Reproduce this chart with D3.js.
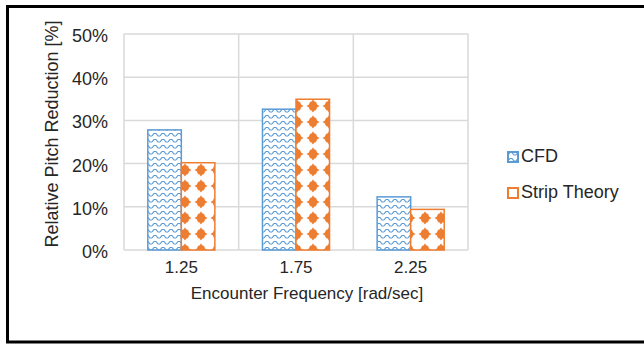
<!DOCTYPE html>
<html lang="en">
    <head>
        <meta charset="utf-8">
        <title>Relative Pitch Reduction</title>
        <script src="https://d3js.org/d3.v7.min.js"></script>
        <style type="text/css">
         body { margin: 0; background: #fff; }
         text { font-family: "Liberation Sans", Arial, sans-serif; fill: #262626; }
        </style>
    </head>
    <body>
        <script type="text/javascript">
         // data
         var categories = ["1.25", "1.75", "2.25"];
         var seriesNames = ["CFD", "Strip Theory"];
         var cfdValues = [0.278, 0.326, 0.123];
         var stripValues = [0.202, 0.349, 0.094];
         var yTicks = [0, 0.1, 0.2, 0.3, 0.4, 0.5];

         var width = 644, height = 345;
         var plot = {left: 124, right: 468, top: 34, bottom: 250};
         var blue = "#5B9BD5", orange = "#ED7D31";

         var svg = d3.select("body").append("svg")
                     .attr("width", width)
                     .attr("height", height);

         // patterns
         var defs = svg.append("defs");
         var wave = defs.append("pattern")
                        .attr("id", "wave")
                        .attr("patternUnits", "userSpaceOnUse")
                        .attr("width", 8).attr("height", 6);
         wave.append("rect").attr("width", 8).attr("height", 6).attr("fill", "#fff");
         wave.append("path")
             .attr("d", "M0,4 L2,1.5 L4,1.5 L6,4 L8,4")
             .attr("fill", "none")
             .attr("stroke", blue)
             .attr("stroke-width", 1.2);

         var diamond = defs.append("pattern")
                           .attr("id", "diamond")
                           .attr("patternUnits", "userSpaceOnUse")
                           .attr("width", 16).attr("height", 16)
                           .attr("patternTransform", "translate(1,2)");
         diamond.append("rect").attr("width", 16).attr("height", 16).attr("fill", "#fff");
         diamond.append("path")
                .attr("d", "M8,1.5 L9.5,3.5 L11,4 L11.5,5 L12,6.5 L14.5,8 L12,9.5 L11.5,11 L11,12 L9.5,12.5 L8,14.5 L6.5,12.5 L5,12 L4.5,11 L4,9.5 L1.5,8 L4,6.5 L4.5,5 L5,4 L6.5,3.5 Z")
                .attr("fill", orange);

         // outer frame
         svg.append("rect")
            .attr("x", 7.5).attr("y", 6.5)
            .attr("width", 660).attr("height", 335.5)
            .attr("fill", "none")
            .attr("stroke", "#000")
            .attr("stroke-width", 3);

         // scales
         var x0 = d3.scaleBand()
                    .domain(categories)
                    .range([plot.left, plot.right]);
         var x1 = d3.scaleBand()
                    .domain(seriesNames)
                    .range([0, x0.bandwidth()])
                    .paddingOuter(0.71);
         var y = d3.scaleLinear()
                   .domain([0, 0.5])
                   .range([plot.bottom, plot.top]);

         // gridlines
         svg.append("g").selectAll("line.h")
            .data(yTicks)
            .join("line")
            .attr("x1", plot.left).attr("x2", plot.right)
            .attr("y1", function(d) { return y(d); })
            .attr("y2", function(d) { return y(d); })
            .attr("stroke", "#D9D9D9")
            .attr("stroke-width", 1.5);
         var vlines = [plot.left].concat(categories.map(function(c) { return x0(c) + x0.bandwidth(); }));
         svg.append("g").selectAll("line.v")
            .data(vlines)
            .join("line")
            .attr("x1", function(d) { return d; })
            .attr("x2", function(d) { return d; })
            .attr("y1", plot.top).attr("y2", plot.bottom)
            .attr("stroke", "#D9D9D9")
            .attr("stroke-width", 1.5);

         // bars
         var rows = categories.map(function(c, i) {
             return [{cat: c, s: "CFD", v: cfdValues[i]},
                     {cat: c, s: "Strip Theory", v: stripValues[i]}];
         });
         var flat = [].concat.apply([], rows);
         svg.append("g").selectAll("rect")
            .data(flat)
            .join("rect")
            .attr("x", function(d) { return x0(d.cat) + x1(d.s); })
            .attr("y", function(d) { return y(d.v); })
            .attr("width", x1.bandwidth())
            .attr("height", function(d) { return y(0) - y(d.v); })
            .attr("fill", function(d) { return d.s === "CFD" ? "url(#wave)" : "url(#diamond)"; })
            .attr("stroke", function(d) { return d.s === "CFD" ? blue : orange; })
            .attr("stroke-width", 1.5);

         // y tick labels
         svg.append("g").selectAll("text")
            .data(yTicks)
            .join("text")
            .attr("x", 108)
            .attr("y", function(d) { return y(d) + 2; })
            .attr("text-anchor", "end")
            .attr("dominant-baseline", "central")
            .style("font-size", "18px")
            .text(d3.format(".0%"));

         // x tick labels
         svg.append("g").selectAll("text")
            .data(categories)
            .join("text")
            .attr("x", function(d) { return x0(d) + x0.bandwidth() / 2; })
            .attr("y", 267)
            .attr("text-anchor", "middle")
            .attr("dominant-baseline", "central")
            .style("font-size", "17px")
            .text(function(d) { return d; });

         // axis titles
         svg.append("text")
            .attr("x", 307)
            .attr("y", 293)
            .attr("text-anchor", "middle")
            .attr("dominant-baseline", "central")
            .style("font-size", "17px")
            .text("Encounter Frequency [rad/sec]");
         svg.append("text")
            .attr("transform", "translate(52,134) rotate(-90)")
            .attr("text-anchor", "middle")
            .attr("dominant-baseline", "central")
            .style("font-size", "18px")
            .text("Relative Pitch Reduction [%]");

         // legend
         var legend = svg.append("g").selectAll("g")
                         .data(seriesNames)
                         .join("g")
                         .attr("transform", function(d, i) { return "translate(508," + (157 + i * 36) + ")"; });
         legend.append("rect")
               .attr("x", 0).attr("y", -5)
               .attr("width", 10).attr("height", 10)
               .attr("fill", function(d, i) { return i === 0 ? "url(#wave)" : "#fff"; })
               .attr("stroke", function(d, i) { return i === 0 ? blue : orange; })
               .attr("stroke-width", 2);
         legend.append("text")
               .attr("x", 13)
               .attr("y", -1)
               .attr("dominant-baseline", "central")
               .style("font-size", "18px")
               .text(function(d) { return d; });
        </script>
    </body>
</html>
